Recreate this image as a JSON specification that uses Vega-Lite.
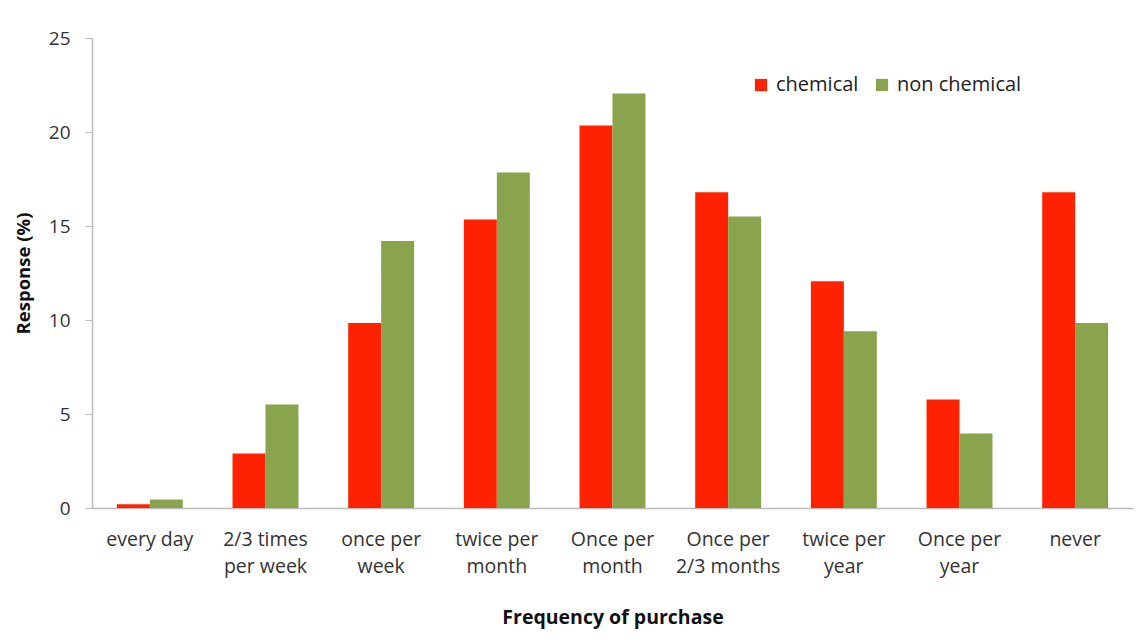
{
  "$schema": "https://vega.github.io/schema/vega-lite/v6.json",
  "width": 1041,
  "height": 470,
  "autosize": {"type": "none"},
  "padding": {"left": 92, "top": 38, "right": 14, "bottom": 133},
  "background": "white",
  "config": {
    "view": {"stroke": null},
    "font": "Open Sans",
    "axis": {"labelFont": "Open Sans", "titleFont": "Open Sans", "labelColor": "#333333", "titleColor": "#111111"},
    "legend": {"labelFont": "Open Sans"}
  },
  "data": {
    "values": [
      {"freq": "every day", "type": "chemical", "response": 0.2},
      {"freq": "every day", "type": "non chemical", "response": 0.45},
      {"freq": "2/3 times\nper week", "type": "chemical", "response": 2.9},
      {"freq": "2/3 times\nper week", "type": "non chemical", "response": 5.5},
      {"freq": "once per\nweek", "type": "chemical", "response": 9.84},
      {"freq": "once per\nweek", "type": "non chemical", "response": 14.2},
      {"freq": "twice per\nmonth", "type": "chemical", "response": 15.35},
      {"freq": "twice per\nmonth", "type": "non chemical", "response": 17.85},
      {"freq": "Once per\nmonth", "type": "chemical", "response": 20.35},
      {"freq": "Once per\nmonth", "type": "non chemical", "response": 22.05},
      {"freq": "Once per\n2/3 months", "type": "chemical", "response": 16.8},
      {"freq": "Once per\n2/3 months", "type": "non chemical", "response": 15.5},
      {"freq": "twice per\nyear", "type": "chemical", "response": 12.06},
      {"freq": "twice per\nyear", "type": "non chemical", "response": 9.4},
      {"freq": "Once per\nyear", "type": "chemical", "response": 5.77},
      {"freq": "Once per\nyear", "type": "non chemical", "response": 3.96},
      {"freq": "never", "type": "chemical", "response": 16.8},
      {"freq": "never", "type": "non chemical", "response": 9.84}
    ]
  },
  "mark": {"type": "bar"},
  "encoding": {
    "x": {
      "field": "freq",
      "type": "nominal",
      "sort": ["every day", "2/3 times\nper week", "once per\nweek", "twice per\nmonth", "Once per\nmonth", "Once per\n2/3 months", "twice per\nyear", "Once per\nyear", "never"],
      "scale": {"paddingInner": 0.43, "paddingOuter": 0.215},
      "axis": {
        "title": "Frequency of purchase",
        "titleFontSize": 19.5,
        "titleFontWeight": "bold",
        "titlePadding": 33,
        "labelAngle": 0,
        "labelFontSize": 19.5,
        "labelPadding": 22,
        "labelLineHeight": 27,
        "labelExpr": "split(datum.label, '\\n')",
        "ticks": false,
        "domainColor": "#bbbbbb",
        "domainWidth": 1.5
      }
    },
    "xOffset": {
      "field": "type",
      "type": "nominal",
      "sort": ["chemical", "non chemical"],
      "scale": {"paddingInner": 0, "paddingOuter": 0}
    },
    "y": {
      "field": "response",
      "type": "quantitative",
      "scale": {"domain": [0, 25], "nice": false},
      "axis": {
        "title": "Response (%)",
        "titleFontSize": 18.5,
        "titleFontWeight": "bold",
        "titlePadding": 15,
        "values": [0, 5, 10, 15, 20, 25],
        "grid": false,
        "labelFontSize": 19,
        "labelPadding": 15,
        "tickSize": 7,
        "tickColor": "#bbbbbb",
        "domainColor": "#bbbbbb",
        "domainWidth": 1.5
      }
    },
    "color": {
      "field": "type",
      "type": "nominal",
      "scale": {"domain": ["chemical", "non chemical"], "range": ["#ff2200", "#8aa44e"]},
      "legend": {
        "title": null,
        "orient": "none",
        "direction": "horizontal",
        "legendX": 659,
        "legendY": 37,
        "symbolType": "square",
        "symbolSize": 150,
        "symbolStrokeWidth": 0,
        "labelFontSize": 20,
        "labelColor": "#222222",
        "labelOffset": 5,
        "columnPadding": 13
      }
    }
  }
}
